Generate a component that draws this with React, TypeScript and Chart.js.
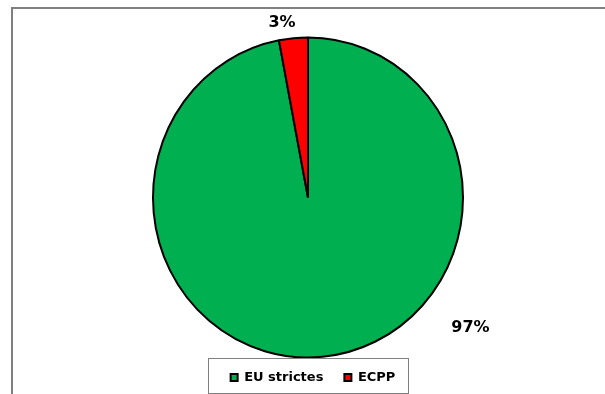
import React, { useEffect, useRef } from "react";
import { Chart, registerables } from "chart.js";

Chart.register(...registerables);

const categories = ["EU strictes", "ECPP"];
const shares = [97, 3];
const sliceColors = ["#00B050", "#FF0000"];

const FONT = "'DejaVu Sans', Verdana, sans-serif";

export default function App() {
  const ref = useRef<HTMLCanvasElement>(null);

  useEffect(() => {
    const canvas = ref.current;
    if (!canvas) return;
    const total = shares.reduce((a, b) => a + b, 0);
    const pctLabels = shares.map((v) => Math.round((v / total) * 100) + "%");
    // label anchor, relative to the pie centre, in units of outer radius
    const labelAnchors = [
      [1.048, 0.84],
      [-0.168, -1.125],
    ];
    const stretchY = 160 / 155;

    const shiftLegend = {
      id: "shiftLegend",
      afterLayout(chart: any) {
        const lg = chart.legend;
        if (lg) {
          lg.left += 5;
          lg.right += 5;
        }
      },
    };

    const piePlugin = {
      id: "piePlugin",
      beforeDatasetsDraw(chart: any) {
        const arc = chart.getDatasetMeta(0).data[0];
        const { x, y } = arc.getProps(["x", "y"], true);
        const ctx = chart.ctx;
        ctx.save();
        ctx.translate(x, y);
        ctx.scale(1, stretchY);
        ctx.translate(-x, -y);
      },
      afterDatasetsDraw(chart: any) {
        const ctx = chart.ctx;
        ctx.restore();
        const meta = chart.getDatasetMeta(0);
        ctx.save();
        ctx.font = `bold 16px ${FONT}`;
        ctx.fillStyle = "#000";
        ctx.textAlign = "center";
        ctx.textBaseline = "middle";
        meta.data.forEach((arc: any, i: number) => {
          const { x, y, outerRadius } = arc.getProps(["x", "y", "outerRadius"], true);
          ctx.fillText(
            pctLabels[i],
            x + outerRadius * labelAnchors[i][0],
            y + outerRadius * labelAnchors[i][1]
          );
        });
        ctx.restore();
      },
      afterDraw(chart: any) {
        const ctx = chart.ctx;
        const lg = chart.legend;
        const ca = chart.chartArea;
        const cx = (ca.left + ca.right) / 2;
        ctx.save();
        ctx.strokeStyle = "#808080";
        ctx.lineWidth = 1;
        const left = Math.round(cx - 100) + 0.5;
        const top = Math.round(lg.top + 8) + 0.5;
        ctx.strokeRect(left, top, 200, 35);
        ctx.restore();
      },
    };

    const chart = new Chart(canvas, {
      type: "pie",
      data: {
        labels: categories,
        datasets: [
          {
            data: shares,
            backgroundColor: sliceColors,
            borderColor: "#000000",
            borderWidth: 2,
            radius: 155,
          } as any,
        ],
      },
      options: {
        responsive: false,
        animation: false,
        maintainAspectRatio: false,
        layout: { padding: { top: 45, left: 0, right: 0, bottom: 0 } },
        plugins: {
          tooltip: { enabled: false },
          legend: {
            position: "bottom",
            labels: {
              boxWidth: 7,
              boxHeight: 7,
              padding: 21,
              color: "#000",
              font: { family: FONT, size: 13, weight: "bold" },
            },
          },
        },
      } as any,
      plugins: [shiftLegend, piePlugin],
    });
    return () => chart.destroy();
  }, []);

  return (
    <div
      style={{
        position: "fixed",
        left: 0,
        top: 0,
        width: 605,
        height: 394,
        overflow: "hidden",
        background: "#fff",
      }}
    >
      <div
        style={{
          position: "absolute",
          left: 11,
          top: 7,
          width: 640,
          height: 420,
          borderTop: "2px solid #808080",
          borderLeft: "2px solid #808080",
        }}
      />
      <canvas
        ref={ref}
        width={594}
        height={394}
        style={{ position: "absolute", left: 11, top: 0, width: 594, height: 394 }}
      />
    </div>
  );
}
